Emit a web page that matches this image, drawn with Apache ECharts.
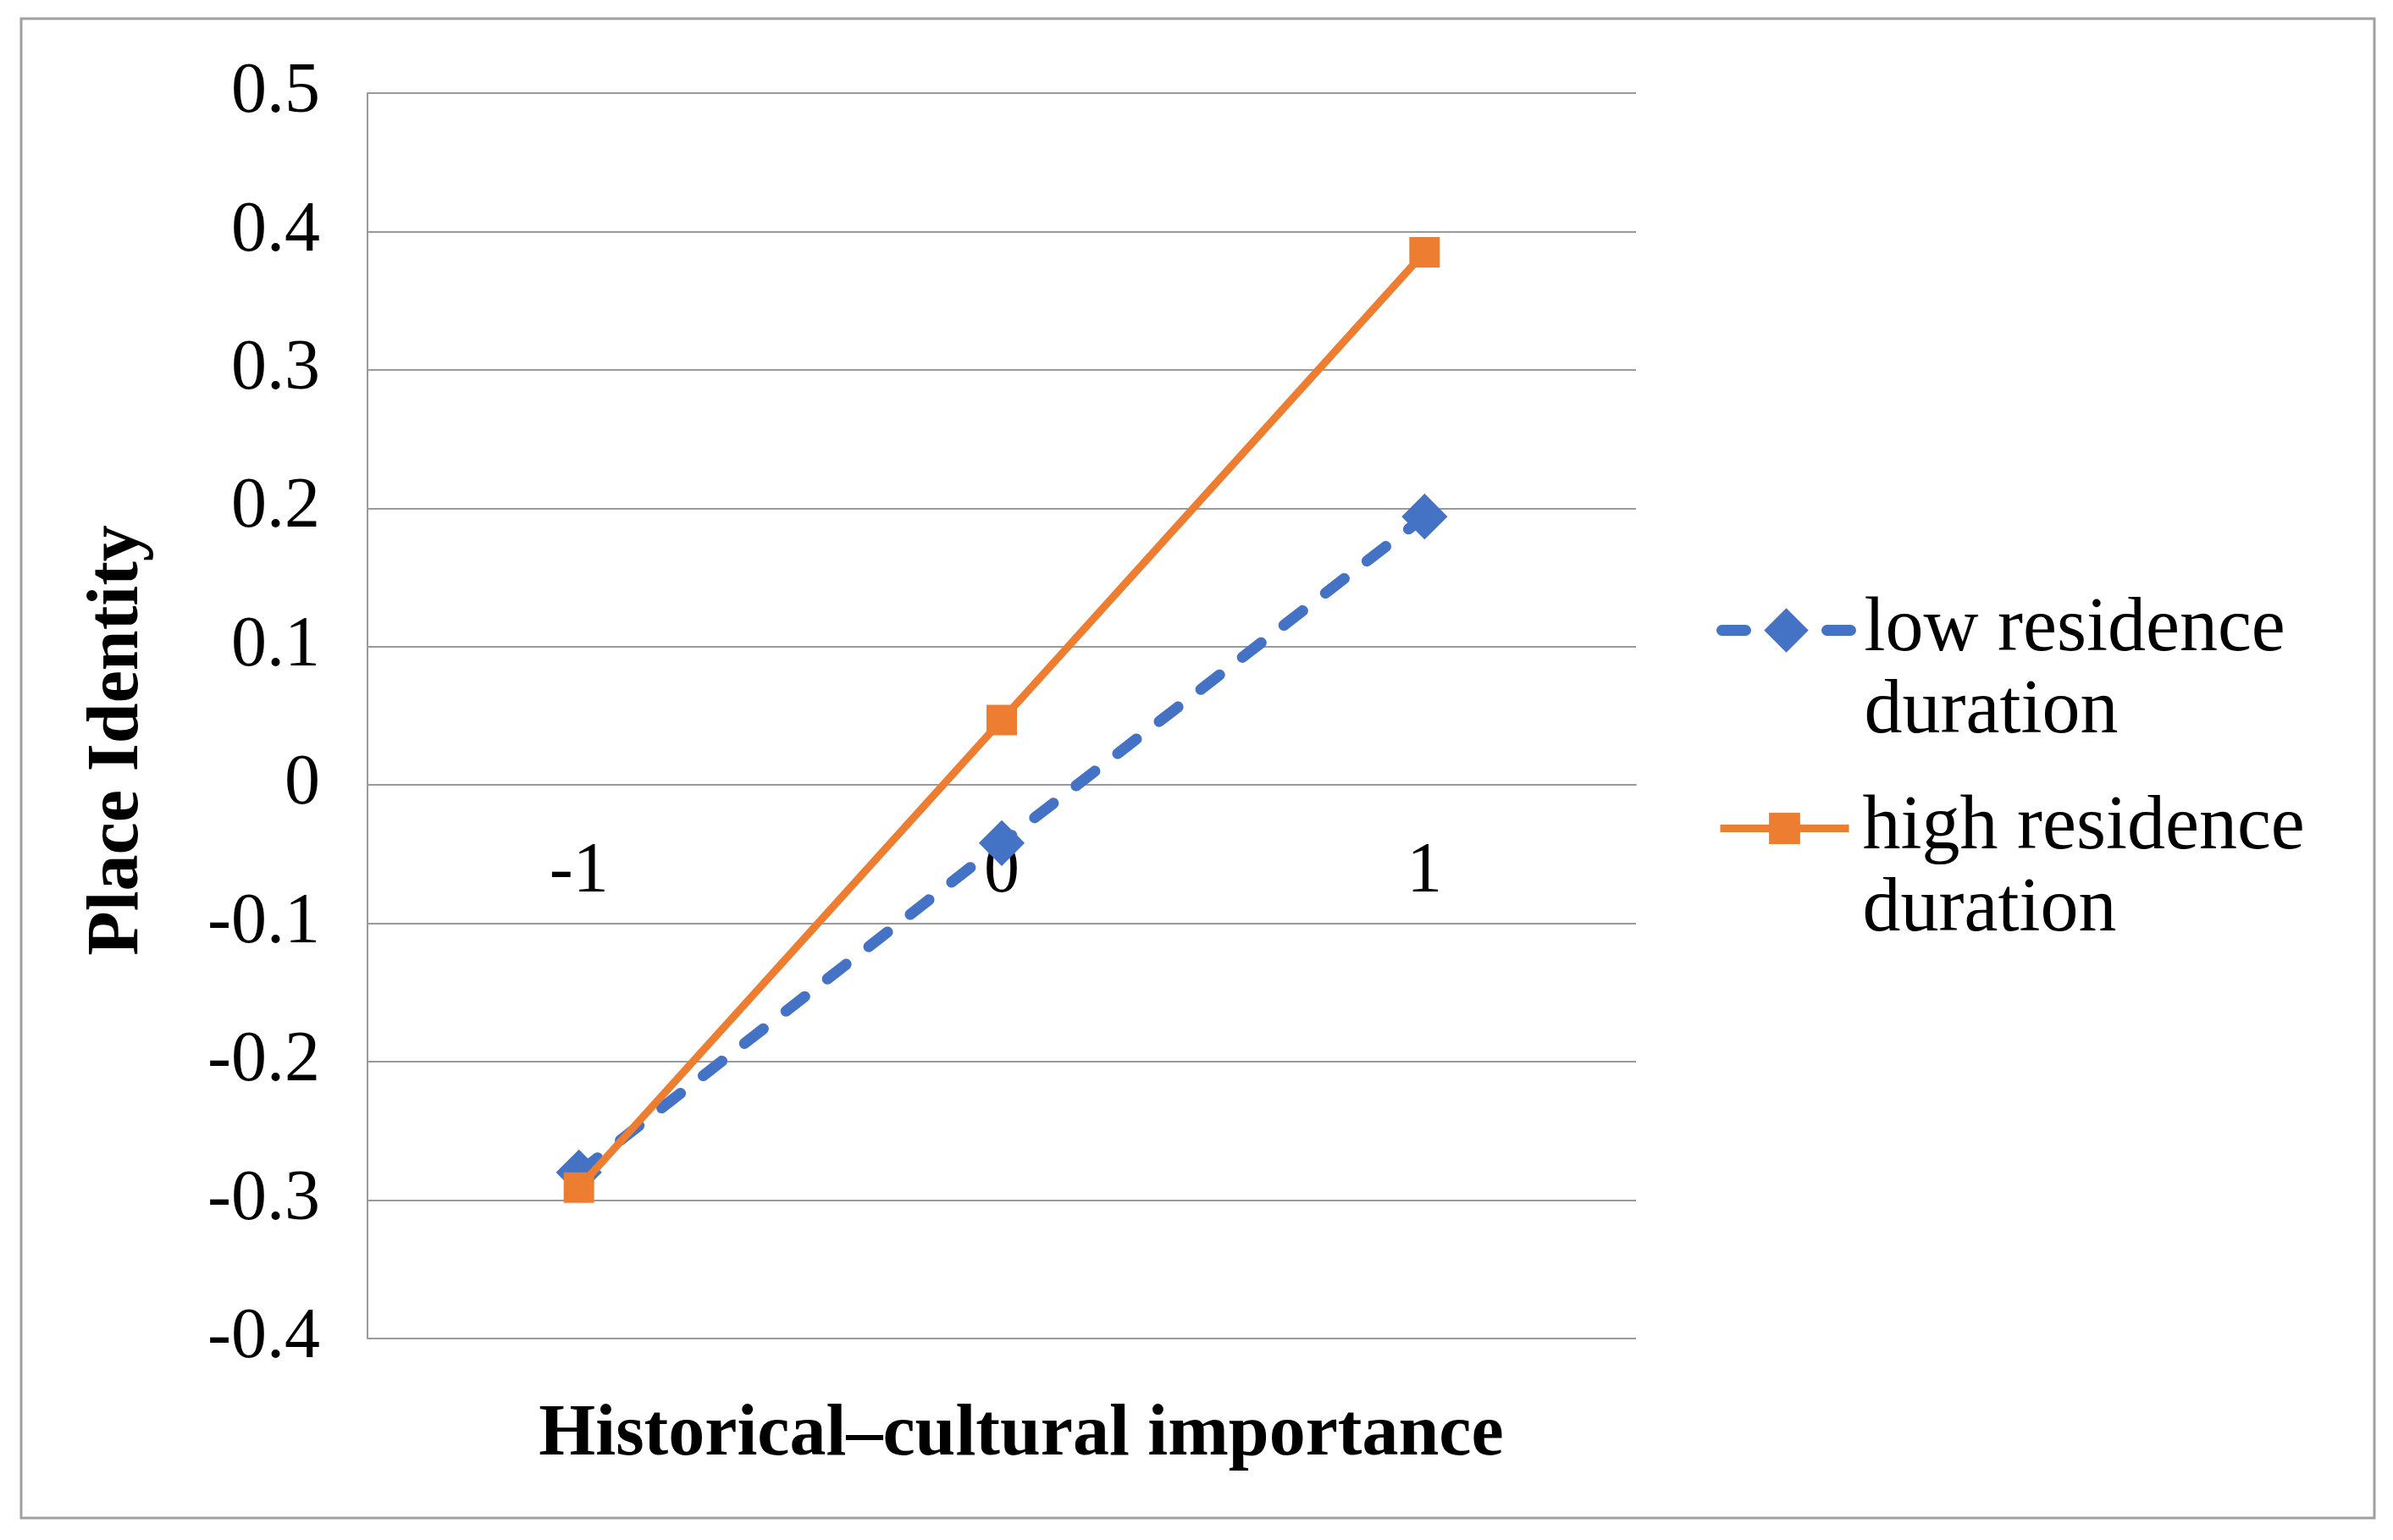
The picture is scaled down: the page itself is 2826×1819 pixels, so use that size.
<!DOCTYPE html>
<html>
<head>
<meta charset="utf-8">
<script src="https://cdn.jsdelivr.net/npm/echarts@6/dist/echarts.min.js"></script>
<style>
html,body{margin:0;padding:0;background:#fff;}
#chart{width:2826px;height:1819px;}
</style>
</head>
<body>
<div id="chart"></div>
<script>
const categories = ['-1', '0', '1'];
const lowValues = [-0.28, -0.042, 0.194];
const highValues = [-0.291, 0.047, 0.385];
const seriesNames = ['low residence duration', 'high residence duration'];
const legendLabels = ['low residence\nduration', 'high residence\nduration'];
const yMin = -0.4, yMax = 0.5, yInterval = 0.1;
const xTitle = 'Historical–cultural importance';
const yTitle = 'Place Identity';

const FONT = '"Liberation Serif", "Times New Roman", serif';
const BLUE = '#4472C4', ORANGE = '#ED7D31', GRID = '#9a9a9a';
const GRID_TOP = 110, GRID_H = 1471;
// move the category axis up to the y = 0 line
const xOffset = -GRID_H * (0 - yMin) / (yMax - yMin);

const chart = echarts.init(document.getElementById('chart'));
const legendBase = {
  orient: 'vertical', left: 2027, padding: 0,
  itemWidth: 152,
  textStyle: { fontFamily: FONT, fontSize: 90, color: '#000', lineHeight: 97, padding: [0, 0, 0, 11] },
  formatter: name => '\n' + legendLabels[seriesNames.indexOf(name)],
  selectedMode: false
};
chart.setOption({
  animation: false,
  backgroundColor: '#fff',
  grid: { left: 434, top: GRID_TOP, width: 1498, height: GRID_H, containLabel: false, outerBoundsMode: 'none' },
  xAxis: {
    type: 'category', data: categories, boundaryGap: true,
    offset: xOffset,
    axisLine: { show: true, onZero: false, lineStyle: { color: GRID, width: 2 } },
    axisTick: { show: false },
    axisLabel: { fontFamily: FONT, fontSize: 84, color: '#000', margin: 62 },
    name: xTitle, nameLocation: 'middle', nameGap: 726,
    nameTextStyle: { fontFamily: FONT, fontSize: 86, fontWeight: 'bold', color: '#000', padding: [0, 0, 0, 46] }
  },
  yAxis: {
    type: 'value', min: yMin, max: yMax, interval: yInterval,
    axisLine: { show: true, lineStyle: { color: GRID, width: 2 } },
    axisTick: { show: false },
    splitLine: { show: true, lineStyle: { color: GRID, width: 2 } },
    axisLabel: { fontFamily: FONT, fontSize: 84, color: '#000', margin: 56,
      formatter: v => String(Math.round(v * 10) / 10) },
    name: yTitle, nameLocation: 'middle', nameGap: 251, nameRotate: 90,
    nameTextStyle: { fontFamily: FONT, fontSize: 86, fontWeight: 'bold', color: '#000', padding: [0, 58, 0, 0] }
  },
  legend: [
    Object.assign({}, legendBase, { top: 599, itemHeight: 62, data: [seriesNames[0]],
      lineStyle: { width: 13, type: [28, 34], cap: 'round' } }),
    Object.assign({}, legendBase, { top: 833, itemHeight: 46, data: [seriesNames[1]],
      lineStyle: { width: 9 } })
  ],
  graphic: [{
    type: 'rect', silent: true,
    shape: { x: 25, y: 22, width: 2779, height: 1771 },
    style: { fill: null, stroke: '#a0a0a0', lineWidth: 3 }
  }],
  series: [
    {
      name: seriesNames[0], type: 'line', data: lowValues,
      symbol: 'diamond', symbolSize: 50,
      lineStyle: { color: BLUE, width: 13, type: [28, 34], cap: 'round' },
      itemStyle: { color: BLUE, borderColor: BLUE, borderWidth: 3 },
      z: 2
    },
    {
      name: seriesNames[1], type: 'line', data: highValues,
      symbol: 'rect', symbolSize: 36,
      lineStyle: { color: ORANGE, width: 9 },
      itemStyle: { color: ORANGE },
      z: 3
    }
  ]
});
</script>
</body>
</html>
